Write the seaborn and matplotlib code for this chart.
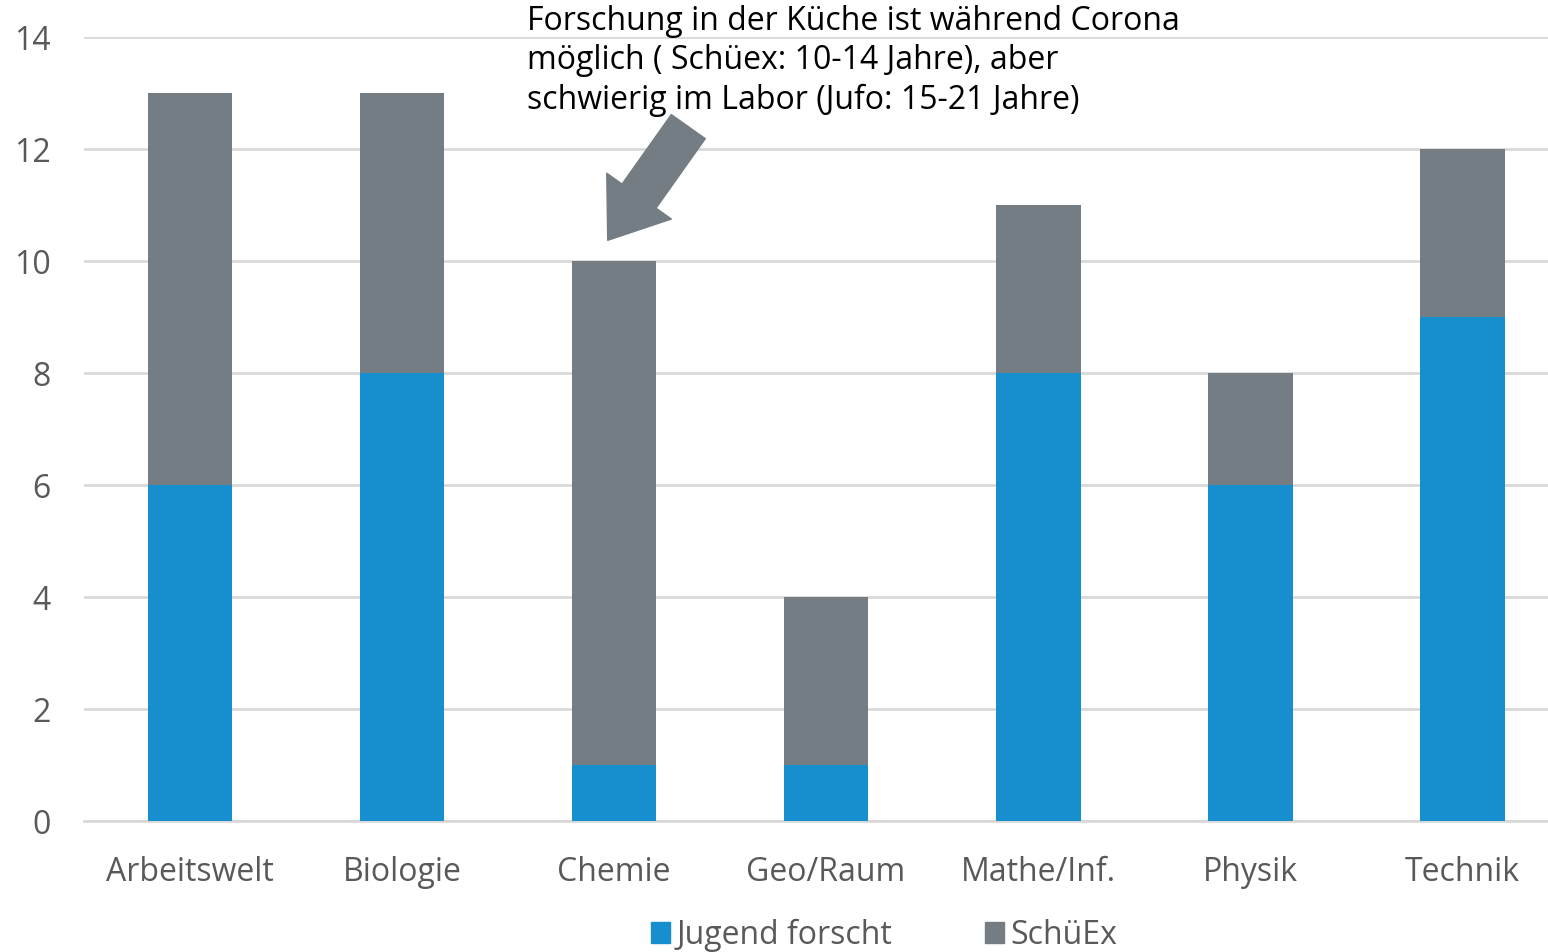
import matplotlib
matplotlib.use("Agg")
import matplotlib.pyplot as plt
import seaborn as sns
import pandas as pd
from matplotlib.patches import Patch

categories = ["Arbeitswelt", "Biologie", "Chemie", "Geo/Raum", "Mathe/Inf.", "Physik", "Technik"]
jufo = [6, 8, 1, 1, 8, 6, 9]
schuex = [7, 5, 9, 3, 3, 2, 3]
y_ticks = [0, 2, 4, 6, 8, 10, 12, 14]
note = ("Forschung in der Küche ist während Corona\n"
        "möglich ( Schüex: 10-14 Jahre), aber\n"
        "schwierig im Labor (Jufo: 15-21 Jahre)")

blue = "#178ecd"
gray = "#737d83"
text_gray = "#595959"
grid_gray = "#d9d9d9"

df = pd.DataFrame({"Fach": categories, "Jufo": jufo, "SchuEx": schuex})
df["Total"] = df["Jufo"] + df["SchuEx"]

sns.set_theme(style="white")
plt.rcParams["font.family"] = ["Open Sans", "DejaVu Sans"]

fig = plt.figure(figsize=(15.48, 9.52), dpi=100)
ax = fig.add_axes([0.0543, 0.1376, 0.9587, 0.8235])

# stacked look: totals in gray, Jugend forscht drawn over them
sns.barplot(data=df, x="Fach", y="Total", color=gray, width=0.4, saturation=1,
            linewidth=0, ax=ax, zorder=2)
sns.barplot(data=df, x="Fach", y="Jufo", color=blue, width=0.4, saturation=1,
            linewidth=0, ax=ax, zorder=3)

ax.set_xlim(-0.5, 6.5)
ax.set_ylim(0, 14)
ax.set_yticks(y_ticks)
ax.yaxis.grid(True, color=grid_gray, linewidth=2, zorder=0)
ax.set_axisbelow(True)
for s in ["left", "right", "top"]:
    ax.spines[s].set_visible(False)
ax.spines["bottom"].set_color(grid_gray)
ax.spines["bottom"].set_linewidth(2)
ax.tick_params(axis="y", length=0, pad=24, labelsize=23, labelcolor=text_gray)
ax.tick_params(axis="x", length=0, pad=25, labelsize=23, labelcolor=text_gray)
ax.set_xlabel("")
ax.set_ylabel("")

ax.annotate("", xy=(1.97, 10.37), xytext=(2.35, 12.4),
            arrowprops=dict(arrowstyle="simple,head_length=1.3,head_width=1.9,tail_width=1.0",
                            color=gray, mutation_scale=30, shrinkA=0, shrinkB=0), zorder=4)
fig.text(0.3404, 1 - 5 / 952, note, ha="left", va="top", fontsize=23, color="black",
         linespacing=1.25)

handles = [Patch(color=blue, label="Jugend forscht"), Patch(color=gray, label="SchüEx")]
fig.legend(handles=handles, loc="lower center", bbox_to_anchor=(0.571, -0.03), ncol=2,
           frameon=False, fontsize=23, labelcolor=text_gray, handlelength=0.6,
           handleheight=0.6, handletextpad=0.2, columnspacing=2.9)

fig.savefig("out.png", dpi=100)
